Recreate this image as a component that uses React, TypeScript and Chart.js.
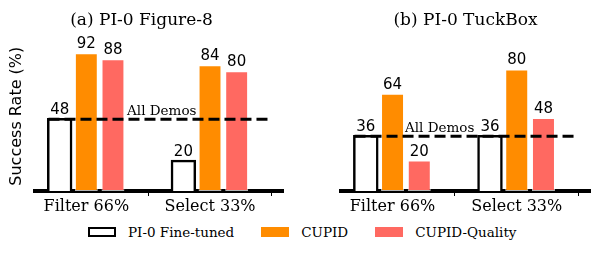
import React, { useEffect, useRef } from 'react';
import { Chart, registerables } from 'chart.js';

Chart.register(...registerables);

// ---- data ----
const categories = ['Filter 66%', 'Select 33%'];
const seriesNames = ['PI-0 Fine-tuned', 'CUPID', 'CUPID-Quality'];
const panelTitles = ['(a) PI-0 Figure-8', '(b) PI-0 TuckBox'];
const figure8FineTuned = [48, 20];
const figure8Cupid = [92, 84];
const figure8CupidQuality = [88, 80];
const tuckBoxFineTuned = [36, 36];
const tuckBoxCupid = [64, 80];
const tuckBoxCupidQuality = [20, 48];
const allDemosValues = [48, 36];
const allDemosLabel = 'All Demos';
const yAxisTitle = 'Success Rate (%)';

// ---- styles ----
const ORANGE = '#FF8C00';
const SALMON = '#FF6961';
const SERIF = '"DejaVu Serif", serif';
const SANS = '"DejaVu Sans", sans-serif';
const X_MIN = -0.415;
const X_MAX = 1.59;
const REF_SPAN = [-0.306, 1.476];
const seriesFill = ['#ffffff', ORANGE, SALMON];

const toPoints = (arr: number[]) => arr.map((v, i) => ({ x: i, y: v }));

const labelsPlugin = {
  id: 'panelLabels',
  afterDatasetsDraw(chart: any, _args: any, opts: any) {
    const ctx = chart.ctx;
    ctx.save();
    ctx.fillStyle = '#000';
    ctx.textAlign = 'center';
    ctx.textBaseline = 'alphabetic';
    ctx.font = `15px ${SANS}`;
    chart.data.datasets.forEach((ds: any, di: number) => {
      if (ds.type !== 'bar') return;
      const meta = chart.getDatasetMeta(di);
      meta.data.forEach((el: any, i: number) => {
        ctx.fillText(String(ds.data[i].y), el.x, el.y - 5);
      });
    });
    const xs = chart.scales.x;
    const ys = chart.scales.y;
    ctx.font = `13.5px ${SERIF}`;
    ctx.fillText(allDemosLabel, xs.getPixelForValue(opts.textX), ys.getPixelForValue(opts.value) - 4);
    ctx.restore();
  },
};

type PanelProps = {
  title: string;
  series: number[][];
  allDemos: number;
  yMax: number;
  showYTitle: boolean;
  left: number;
  width: number;
  padLeft: number;
  padRight: number;
  demosTextX: number;
};

function Panel(p: PanelProps) {
  const ref = useRef<HTMLCanvasElement | null>(null);
  useEffect(() => {
    if (!ref.current) return;
    const datasets: any[] = [
      {
        type: 'line',
        data: [
          { x: REF_SPAN[0], y: p.allDemos },
          { x: REF_SPAN[1], y: p.allDemos },
        ],
        borderColor: '#000',
        borderWidth: 3,
        borderDash: [11, 5],
        pointRadius: 0,
        fill: false,
        order: -1,
      },
      ...p.series.map((vals, si) => ({
        type: 'bar',
        label: seriesNames[si],
        data: toPoints(vals),
        backgroundColor: seriesFill[si],
        borderColor: si === 0 ? '#000' : 'rgba(255,255,255,0.7)',
        borderWidth: si === 0 ? 2.5 : 1,
        borderSkipped: si === 0 ? 'start' : false,
        inflateAmount: si === 0 ? 1.25 : 0,
        categoryPercentage: 0.646,
        barPercentage: 0.86,
      })),
    ];
    const yScale: any = {
      min: 0,
      max: p.yMax,
      display: p.showYTitle,
      ticks: { display: false },
      grid: { display: false },
      border: { display: false },
      title: {
        display: true,
        text: yAxisTitle,
        color: '#000',
        font: { family: SANS, size: 16 },
        padding: { top: 7, bottom: 0 },
      },
    };
    if (p.showYTitle) {
      yScale.afterFit = (axis: any) => {
        axis.width = 35;
      };
    }
    const chart = new Chart(ref.current, {
      type: 'bar',
      data: { datasets },
      options: {
        responsive: false,
        animation: false,
        devicePixelRatio: 1,
        layout: { padding: { left: p.padLeft, right: p.padRight, top: 0, bottom: 0 } },
        plugins: {
          legend: { display: false },
          tooltip: { enabled: false },
          title: {
            display: true,
            text: p.title,
            color: '#000',
            font: { family: SERIF, size: 17, weight: 'normal' },
            padding: { top: 10, bottom: 11 },
          },
          panelLabels: { textX: p.demosTextX, value: p.allDemos },
        } as any,
        scales: {
          x: {
            type: 'linear',
            min: X_MIN,
            max: X_MAX,
            offset: false,
            afterBuildTicks: (axis: any) => {
              axis.ticks = categories.map((_, i) => ({ value: i }));
            },
            afterFit: (axis: any) => {
              axis.height = 24;
            },
            ticks: {
              callback: (v: any) => categories[v] ?? '',
              font: { family: SERIF, size: 16 },
              color: '#000',
              padding: 1,
              maxRotation: 0,
              autoSkip: false,
            },
            grid: {
              display: true,
              drawOnChartArea: false,
              drawTicks: true,
              tickLength: 5,
              color: '#000',
              lineWidth: 1,
            },
            border: { display: true, color: '#000', width: 4 },
          },
          y: yScale,
        } as any,
      },
      plugins: [labelsPlugin],
    } as any);
    return () => chart.destroy();
  }, []);
  return (
    <canvas
      ref={ref}
      width={p.width}
      height={215}
      style={{ position: 'absolute', left: p.left, top: 0, width: p.width, height: 215 }}
    />
  );
}

export default function App() {
  return (
    <div style={{ position: 'absolute', left: 0, top: 0, width: 598, height: 255, background: '#fff' }}>
      <Panel
        title={panelTitles[0]}
        series={[figure8FineTuned, figure8Cupid, figure8CupidQuality]}
        allDemos={allDemosValues[0]}
        yMax={100}
        showYTitle={true}
        left={0}
        width={318}
        padLeft={0}
        padRight={35}
        demosTextX={0.61}
      />
      <Panel
        title={panelTitles[1]}
        series={[tuckBoxFineTuned, tuckBoxCupid, tuckBoxCupidQuality]}
        allDemos={allDemosValues[1]}
        yMax={98.5}
        showYTitle={false}
        left={333}
        width={265}
        padLeft={8}
        padRight={8}
        demosTextX={0.38}
      />
      <div
        style={{
          position: 'absolute',
          left: 88,
          top: 224,
          display: 'flex',
          alignItems: 'center',
          font: `13.5px ${SERIF}`,
          lineHeight: '16px',
          color: '#000',
          whiteSpace: 'nowrap',
        }}
      >
        {seriesNames.map((name, i) => (
          <div key={name} style={{ display: 'flex', alignItems: 'center', marginRight: 27 }}>
            <span
              style={{
                display: 'inline-block',
                width: 28,
                height: 10,
                boxSizing: 'border-box',
                background: seriesFill[i],
                border: i === 0 ? '2.5px solid #000' : 'none',
              }}
            />
            <span style={{ marginLeft: 12 }}>{name}</span>
          </div>
        ))}
      </div>
    </div>
  );
}
